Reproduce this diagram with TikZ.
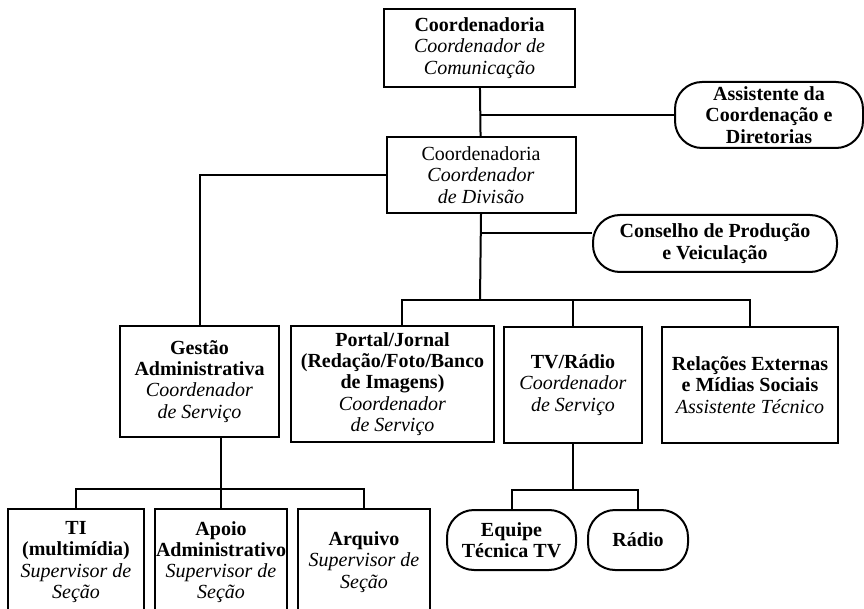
\documentclass[tikz,border=0pt]{standalone}
\usepackage{fontspec}
\setmainfont{Liberation Serif}

\begin{document}
\begin{tikzpicture}[x=1pt,y=-1pt,line width=2pt,
    box/.style={draw,rectangle,align=center,inner sep=1pt,font=\fontsize{20}{21.2}\selectfont},
    pill/.style={box,rounded corners=27pt}]
  \clip (0,0) rectangle (864,609);
  % upper levels
  \node[box,minimum width=191pt,minimum height=78pt] (com) at (479.5,48) {\textbf{Coordenadoria}\\\textit{Coordenador de}\\\textit{Comunicação}};
  \node[pill,minimum width=188pt,minimum height=66pt] (assist) at (769,115) {\textbf{Assistente da}\\\textbf{Coordenação e}\\\textbf{Diretorias}};
  \node[box,minimum width=189pt,minimum height=76pt] (div) at (481,175) {Coordenadoria\\\textit{Coordenador}\\\textit{de Divisão}};
  \node[pill,minimum width=244pt,minimum height=57pt] (cons) at (715,243.5) {\textbf{Conselho de Produção}\\\textbf{e Veiculação}};
  % services
  \node[box,minimum width=159pt,minimum height=111pt] (gest) at (199.5,381.5) {\textbf{Gestão}\\\textbf{Administrativa}\\\textit{Coordenador}\\\textit{de Serviço}};
  \node[box,minimum width=203pt,minimum height=116pt] (portal) at (392.5,384) {\textbf{Portal/Jornal}\\\textbf{(Redação/Foto/Banco}\\\textbf{de Imagens)}\\\textit{Coordenador}\\\textit{de Serviço}};
  \node[box,minimum width=138pt,minimum height=116pt] (tv) at (573,385) {\textbf{TV/Rádio}\\\textit{Coordenador}\\\textit{de Serviço}};
  \node[box,minimum width=176pt,minimum height=116pt] (rel) at (750,385) {\textbf{Relações Externas}\\\textbf{e Mídias Sociais}\\\textit{Assistente Técnico}};
  % sections
  \node[box,minimum width=136pt,minimum height=106pt] (ti) at (76,562) {\textbf{TI}\\\textbf{(multimídia)}\\\textit{Supervisor de}\\\textit{Seção}};
  \node[box,minimum width=132pt,minimum height=106pt] (apoio) at (221,562) {\textbf{Apoio}\\\textbf{Administrativo}\\\textit{Supervisor de}\\\textit{Seção}};
  \node[box,minimum width=132pt,minimum height=106pt] (arq) at (364,562) {\textbf{Arquivo}\\\textit{Supervisor de}\\\textit{Seção}};
  \node[pill,minimum width=129pt,minimum height=60pt] (equipe) at (511.5,540) {\textbf{Equipe}\\\textbf{Técnica TV}};
  \node[pill,minimum width=100pt,minimum height=60pt] (radio) at (638,540) {\textbf{Rádio}};
  % junctions
  \coordinate (sbus) at (480,300);
  \coordinate (gbus) at (221,489);
  \coordinate (tbus) at (573,490);
  % connectors
  \draw (com) -- (div);
  \draw (com.south |- assist.west) -- (assist.west);
  \draw (div.west) -| (gest.north);
  \draw (div.south) -- (sbus);
  \draw (div.south |- cons.west) ++(0,-10) -- ([yshift=10pt]cons.west);
  \draw ([xshift=9pt]portal.north) |- (sbus) -| (rel.north);
  \draw (tv.north) -- (tv.north |- sbus);
  \draw (apoio.north |- gest.south) -- (apoio.north);
  \draw (ti.north) |- (gbus) -| (arq.north);
  \draw (tv.south) -- (tbus);
  \draw (equipe.north) |- (tbus) -| (radio.north);
\end{tikzpicture}
\end{document}
